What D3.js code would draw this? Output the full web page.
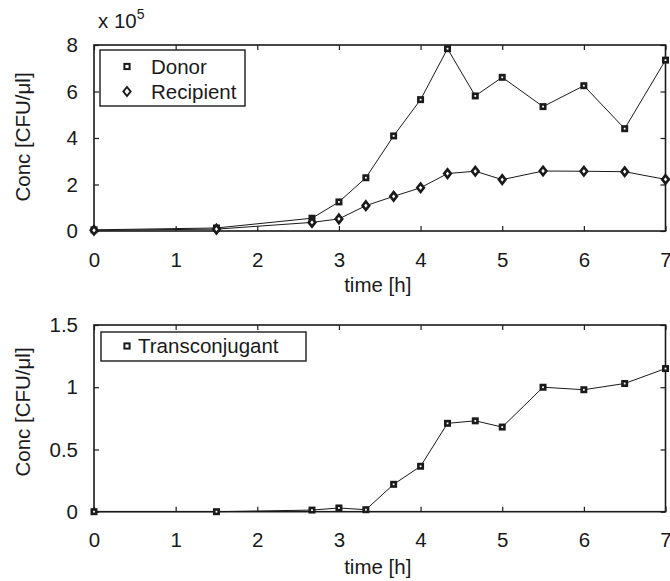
<!DOCTYPE html>
<html>
<head>
<meta charset="utf-8">
<script src="https://cdn.jsdelivr.net/npm/d3@7"></script>
<style>
  body { margin: 0; background: #fff; }
  svg { font-family: "Liberation Sans", Arial, sans-serif; }
  .axis text { font-size: 20.5px; fill: #1a1a1a; }
  .axis line { stroke: #1a1a1a; stroke-width: 1.2; }
  .axis path { display: none; }
</style>
</head>
<body>
<div id="chart"></div>
<script>
// sampling times [h]
const times = [0, 1.5, 2.67, 3, 3.33, 3.67, 4, 4.33, 4.67, 5, 5.5, 6, 6.5, 7];
// concentrations, top panel in units of 1e5 CFU/ul
const donor = [0.05, 0.13, 0.55, 1.25, 2.29, 4.09, 5.65, 7.84, 5.81, 6.61, 5.35, 6.25, 4.40, 7.35];
const recipient = [0.03, 0.08, 0.37, 0.52, 1.09, 1.49, 1.86, 2.47, 2.57, 2.21, 2.58, 2.57, 2.55, 2.22];
const transconjugant = [0, 0, 0.013, 0.03, 0.016, 0.22, 0.365, 0.71, 0.73, 0.68, 1.00, 0.98, 1.03, 1.15];

const xTicks = [0, 1, 2, 3, 4, 5, 6, 7];
const yTicksTop = [0, 2, 4, 6, 8];
const yTicksBottom = [0, 0.5, 1, 1.5];

const width = 670, height = 581;
const ink = "#1a1a1a";

const svg = d3.select("#chart").append("svg")
    .attr("width", width)
    .attr("height", height);

// draws one marker shape at the origin of a <g>; data markers are heavier than legend ones
function marker(g, shape, heavy) {
    const sw = heavy ? 2.6 : 2;
    if (shape === "square") {
        const s = heavy ? 4.4 : 5.2;
        g.append("rect")
            .attr("x", -s / 2).attr("y", -s / 2)
            .attr("width", s).attr("height", s)
            .attr("fill", "#fff").attr("stroke", ink).attr("stroke-width", sw);
    } else {
        g.append("path")
            .attr("d", heavy ? "M0,-4.2L3.3,0L0,4.2L-3.3,0Z" : "M0,-4.5L3.6,0L0,4.5L-3.6,0Z")
            .attr("fill", "#fff").attr("stroke", ink).attr("stroke-width", sw);
    }
}

function panel(opts) {
    const { top, bottom, left, right, yDomain, yTicks, fmt, series, legend, labelY, xLabelY } = opts;

    const x = d3.scaleLinear().domain([0, 7]).range([left, right]);
    const y = d3.scaleLinear().domain(yDomain).range([bottom, top]);

    const g = svg.append("g");

    // axes with inward ticks
    g.append("g").attr("class", "axis")
        .attr("transform", `translate(0,${bottom})`)
        .call(d3.axisBottom(x).tickValues(xTicks).tickSize(-5).tickSizeOuter(0).tickPadding(21).tickFormat(d3.format("d")));
    g.append("g").attr("class", "axis")
        .attr("transform", `translate(0,${top})`)
        .call(d3.axisTop(x).tickValues(xTicks).tickSize(-5).tickSizeOuter(0).tickFormat(""));
    g.append("g").attr("class", "axis")
        .attr("transform", `translate(${left},0)`)
        .call(d3.axisLeft(y).tickValues(yTicks).tickSize(-5).tickSizeOuter(0).tickPadding(16).tickFormat(fmt));
    g.append("g").attr("class", "axis")
        .attr("transform", `translate(${right},0)`)
        .call(d3.axisRight(y).tickValues(yTicks).tickSize(-5).tickSizeOuter(0).tickFormat(""));

    // frame
    g.append("rect")
        .attr("x", left).attr("y", top)
        .attr("width", right - left).attr("height", bottom - top)
        .attr("fill", "none").attr("stroke", ink).attr("stroke-width", 1.6);

    const line = d3.line()
        .x((d, i) => x(times[i]))
        .y(d => y(d));

    series.forEach(s => {
        g.append("path")
            .datum(s.values)
            .attr("d", line)
            .attr("fill", "none")
            .attr("stroke", ink)
            .attr("stroke-width", 1);
        g.append("g")
            .selectAll("g")
            .data(s.values)
            .join("g")
            .attr("transform", (d, i) => `translate(${x(times[i])},${y(d)})`)
            .each(function () { marker(d3.select(this), s.shape, true); });
    });

    // legend
    const lg = g.append("g");
    lg.append("rect")
        .attr("x", legend.x).attr("y", legend.y)
        .attr("width", legend.w).attr("height", legend.h)
        .attr("fill", "#fff").attr("stroke", ink).attr("stroke-width", 1.4);
    series.forEach((s, i) => {
        const cy = legend.y + legend.rowTop + i * legend.rowGap;
        marker(lg.append("g").attr("transform", `translate(${legend.mx},${cy})`), s.shape, false);
        lg.append("text")
            .attr("x", legend.tx).attr("y", cy)
            .attr("dy", "0.36em")
            .attr("font-size", "20.5px")
            .attr("fill", ink)
            .text(s.name);
    });

    // axis titles
    g.append("text")
        .attr("transform", `translate(23,${labelY}) rotate(-90)`)
        .attr("text-anchor", "middle")
        .attr("dy", "0.35em")
        .attr("font-size", "20.5px")
        .attr("fill", ink)
        .text("Conc [CFU/\u03BCl]");
    g.append("text")
        .attr("x", (left + right) / 2 - 2)
        .attr("y", xLabelY)
        .attr("text-anchor", "middle")
        .attr("font-size", "20.5px")
        .attr("fill", ink)
        .text("time [h]");
}

panel({
    top: 45, bottom: 231, left: 94, right: 665.5,
    yDomain: [0, 8], yTicks: yTicksTop, fmt: d3.format("d"),
    series: [
        { name: "Donor", values: donor, shape: "square" },
        { name: "Recipient", values: recipient, shape: "diamond" }
    ],
    legend: { x: 100, y: 50, w: 145, h: 56, rowTop: 16.5, rowGap: 25, mx: 127, tx: 151 },
    labelY: 137, xLabelY: 292
});

panel({
    top: 325, bottom: 511.7, left: 94, right: 665.5,
    yDomain: [0, 1.5], yTicks: yTicksBottom, fmt: d => String(d),
    series: [
        { name: "Transconjugant", values: transconjugant, shape: "square" }
    ],
    legend: { x: 101, y: 332, w: 205, h: 29, rowTop: 14, rowGap: 25, mx: 127, tx: 138 },
    labelY: 412, xLabelY: 574
});

// exponent note above the top panel
const note = svg.append("text")
    .attr("x", 98).attr("y", 28)
    .attr("font-size", "20.5px")
    .attr("fill", ink);
note.append("tspan").text("x 10");
note.append("tspan").attr("dy", -9).attr("font-size", "14px").text("5");
</script>
</body>
</html>
